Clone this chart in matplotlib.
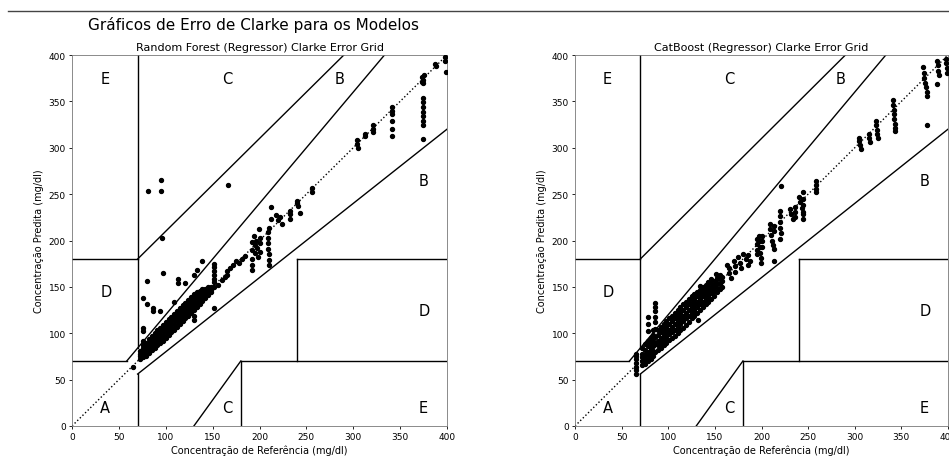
import matplotlib
matplotlib.use("Agg")
import matplotlib.pyplot as plt
from matplotlib.lines import Line2D

# Random Forest: dense band near the diagonal
rf_band_ref = [73]*4 + [76]*5 + [79]*5 + [82]*5 + [85]*5 + [88]*5 + [91]*5 + [94]*5 + [97]*5 + [100]*5 \
    + [103]*5 + [106]*5 + [109]*5 + [112]*5 + [115]*5 + [118]*5 + [121]*5 + [124]*5 + [127]*5 + [130]*5 \
    + [133]*5 + [136]*5 + [139]*5 + [142]*4 + [145]*4 + [148]*3
rf_band_pred = [72, 75, 78, 81,
                74, 77, 80, 84, 87,
                76, 80, 83, 87, 90,
                79, 83, 86, 90, 94,
                82, 86, 89, 93, 97,
                84, 88, 92, 96, 100,
                87, 91, 95, 99, 103,
                90, 94, 98, 102, 106,
                92, 97, 101, 105, 109,
                95, 100, 104, 108, 112,
                98, 103, 107, 111, 115,
                101, 106, 110, 114, 118,
                104, 109, 113, 117, 121,
                107, 112, 116, 120, 124,
                110, 115, 119, 123, 127,
                113, 118, 122, 126, 130,
                116, 121, 125, 129, 133,
                119, 124, 128, 132, 136,
                122, 127, 131, 135, 139,
                125, 130, 134, 138, 142,
                128, 133, 137, 141, 144,
                131, 136, 140, 143, 146,
                135, 139, 142, 145, 148,
                138, 142, 145, 148,
                141, 144, 147, 150,
                144, 147, 150]

# Random Forest: scattered and higher values
rf_ref = [81, 95, 95, 166, 96, 139, 97, 80, 113, 113, 121, 130, 133, 76, 80, 86, 86, 94, 109, 76, 76, 76, 65,
          130, 130, 151,
          151, 151, 151, 151, 151, 151, 151,
          156, 160, 163, 165, 165, 168, 172, 175, 178, 181, 185,
          192, 192, 194, 195, 195, 196, 197, 198, 199, 200, 200, 200, 192, 192, 192,
          209, 209, 209, 209, 210, 210, 210, 212, 212, 210, 218, 220, 222, 224, 232, 232, 232,
          240, 240, 241, 243, 256, 256,
          304, 304, 305, 312, 313, 321, 321, 321, 341, 341, 341, 341, 341, 341,
          373, 374, 374, 375, 373, 374, 374, 374, 374, 374, 374, 374, 374,
          387, 388, 398, 398, 399]
rf_pred = [253, 265, 253, 260, 203, 178, 165, 156, 158, 154, 154, 163, 168, 138, 132, 127, 124, 124, 134, 106, 102, 92, 64,
           119, 114, 127,
           175, 171, 167, 163, 159, 155, 150,
           152, 157, 161, 167, 163, 170, 174, 178, 176, 180, 183,
           198, 190, 205, 195, 186, 200, 192, 182, 212, 203, 197, 188, 180, 174, 168,
           209, 203, 197, 191, 185, 179, 174, 236, 223, 214, 227, 222, 225, 218, 232, 229, 223,
           243, 240, 237, 230, 257, 252,
           308, 304, 300, 315, 313, 324, 320, 317, 344, 340, 336, 329, 320, 313,
           376, 373, 370, 378, 371, 354, 349, 344, 339, 334, 329, 324, 309,
           390, 388, 398, 393, 382]

# CatBoost: dense band near the diagonal
cb_band_ref = [65]*7 + [72]*5 + [75]*5 + [78]*8 + [81]*5 + [84]*6 + [86]*9 + [89]*5 + [92]*5 + [95]*5 \
    + [98]*5 + [101]*5 + [104]*5 + [107]*5 + [110]*5 + [113]*5 + [116]*5 + [119]*5 + [122]*5 + [125]*5 \
    + [128]*5 + [131]*5 + [134]*5 + [137]*5 + [140]*5 + [143]*5 + [146]*5 + [149]*4 + [152]*4 + [155]*4 + [158]*3
cb_band_pred = [56, 60, 64, 68, 72, 76, 78,
                66, 70, 74, 78, 84,
                67, 72, 77, 82, 88,
                70, 75, 80, 86, 92, 102, 110, 117,
                72, 78, 83, 89, 95,
                76, 81, 86, 92, 98, 104,
                80, 88, 96, 105, 112, 118, 124, 128, 133,
                82, 87, 92, 98, 104,
                84, 90, 95, 101, 107,
                87, 93, 98, 104, 110,
                90, 96, 101, 107, 113,
                93, 99, 104, 110, 116,
                95, 101, 107, 113, 119,
                97, 104, 110, 116, 122,
                100, 107, 113, 119, 125,
                103, 110, 116, 122, 128,
                106, 113, 119, 125, 131,
                109, 116, 122, 128, 134,
                112, 119, 125, 131, 137,
                116, 122, 128, 134, 140,
                119, 125, 131, 137, 142,
                122, 128, 134, 140, 145,
                125, 131, 137, 142, 147,
                128, 134, 140, 145, 150,
                131, 137, 142, 147, 152,
                134, 140, 145, 150, 155,
                137, 143, 148, 153, 158,
                140, 146, 151, 156,
                144, 149, 154, 160,
                148, 153, 158, 163,
                150, 156, 161]

# CatBoost: scattered and higher values
cb_ref = [134, 132, 151,
          163, 165, 165, 167, 170, 172, 172, 175, 177, 178, 180, 183, 185, 186, 188,
          195, 195, 195, 195, 197, 198, 198, 198, 199, 199, 200, 200, 200,
          209, 209, 210, 211, 212, 213, 213, 213, 213,
          220, 220, 220, 220, 221, 220, 221,
          231, 232, 234, 236, 236, 236,
          240, 241, 243, 244, 245, 245, 245, 245, 245,
          258, 258, 258, 258,
          305, 305, 306, 307, 315, 315, 316, 323, 323, 324, 324, 325,
          341, 341, 342, 342, 342, 343, 343, 343,
          377, 373, 374, 374, 375, 376, 377, 377, 388, 388, 389, 389, 390, 398, 398, 399, 399]
cb_pred = [151, 114, 164,
           174, 170, 165, 160, 178, 172, 166, 182, 176, 170, 185, 180, 174, 184, 178,
           202, 196, 190, 185, 205, 200, 193, 187, 181, 176, 205, 199, 193,
           218, 212, 206, 200, 195, 191, 178, 216, 210,
           232, 226, 220, 214, 208, 202, 259,
           234, 229, 223, 236, 231, 225,
           247, 241, 235, 229, 252, 245, 238, 231, 223,
           264, 260, 256, 252,
           311, 307, 303, 299, 315, 311, 306, 329, 324, 319, 315, 311,
           351, 346, 341, 336, 331, 326, 321, 318,
           324, 387, 381, 375, 370, 365, 360, 356, 369, 394, 389, 383, 378, 396, 391, 386, 381]

titles = ["Random Forest (Regressor) Clarke Error Grid", "CatBoost (Regressor) Clarke Error Grid"]
ticks = [0, 50, 100, 150, 200, 250, 300, 350, 400]


def clarke_grid(ax, ref, pred, title):
    ax.scatter(ref, pred, marker='o', color='black', s=8, zorder=3)
    ax.set_title(title, fontsize=8, pad=3.5)
    ax.set_xlabel("Concentração de Referência (mg/dl)", fontsize=7, labelpad=2)
    ax.set_ylabel("Concentração Predita (mg/dl)", fontsize=7, labelpad=3)
    ax.set_xticks(ticks)
    ax.set_yticks(ticks)
    ax.tick_params(labelsize=6.5, length=2.5, width=0.6, pad=2)
    ax.set_xlim(0, 400)
    ax.set_ylim(0, 400)
    for s in ax.spines.values():
        s.set_linewidth(0.6)
        s.set_color('#777777')

    lw = 1.0
    ax.plot([0, 400], [0, 400], ':', c='black', lw=lw)
    ax.plot([0, 175 / 3], [70, 70], '-', c='black', lw=lw)
    ax.plot([175 / 3, 400 / 1.2], [70, 400], '-', c='black', lw=lw)
    ax.plot([70, 70], [84, 400], '-', c='black', lw=lw)
    ax.plot([0, 70], [180, 180], '-', c='black', lw=lw)
    ax.plot([70, 290], [180, 400], '-', c='black', lw=lw)
    ax.plot([70, 70], [0, 56], '-', c='black', lw=lw)
    ax.plot([70, 400], [56, 320], '-', c='black', lw=lw)
    ax.plot([180, 180], [0, 70], '-', c='black', lw=lw)
    ax.plot([180, 400], [70, 70], '-', c='black', lw=lw)
    ax.plot([240, 240], [70, 180], '-', c='black', lw=lw)
    ax.plot([240, 400], [180, 180], '-', c='black', lw=lw)
    ax.plot([130, 180], [0, 70], '-', c='black', lw=lw)

    fs = 10.5
    ax.text(30, 15, "A", fontsize=fs)
    ax.text(370, 260, "B", fontsize=fs)
    ax.text(280, 370, "B", fontsize=fs)
    ax.text(160, 370, "C", fontsize=fs)
    ax.text(160, 15, "C", fontsize=fs)
    ax.text(30, 140, "D", fontsize=fs)
    ax.text(370, 120, "D", fontsize=fs)
    ax.text(30, 370, "E", fontsize=fs)
    ax.text(370, 15, "E", fontsize=fs)


fig = plt.figure(figsize=(9.49, 4.64), dpi=100)
ax1 = fig.add_axes([72 / 949, 1 - 427 / 464, 375 / 949, 371 / 464])
ax2 = fig.add_axes([575 / 949, 1 - 427 / 464, 373 / 949, 371 / 464])

clarke_grid(ax1, rf_band_ref + rf_ref, rf_band_pred + rf_pred, titles[0])
clarke_grid(ax2, cb_band_ref + cb_ref, cb_band_pred + cb_pred, titles[1])

fig.suptitle("Gráficos de Erro de Clarke para os Modelos", fontsize=11, x=254 / 949, y=1 - 25 / 464, va='center')
fig.add_artist(Line2D([8 / 949, 1], [1 - 11.5 / 464] * 2, transform=fig.transFigure, color='#444444', lw=1))

fig.savefig("out.png", dpi=100)
